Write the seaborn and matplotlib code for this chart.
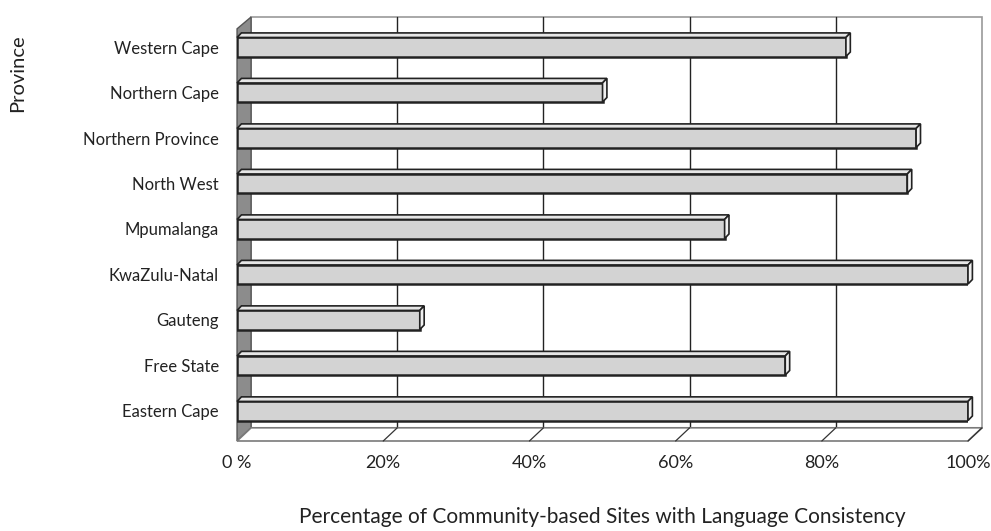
import matplotlib
matplotlib.use("Agg")
import matplotlib.pyplot as plt
import seaborn as sns
import pandas as pd
from matplotlib.patches import Polygon

# data
provinces = ["Western Cape", "Northern Cape", "Northern Province", "North West",
             "Mpumalanga", "KwaZulu-Natal", "Gauteng", "Free State", "Eastern Cape"]
pct = [83.3, 50.0, 92.9, 91.7, 66.7, 100.0, 25.0, 75.0, 100.0]
ticks = [0, 20, 40, 60, 80, 100]
tick_labels = ["0 %", "20%", "40%", "60%", "80%", "100%"]

df = pd.DataFrame({"Province": provinces, "pct": pct})

sns.set_style("white")
plt.rcParams["font.family"] = ["Lato", "DejaVu Sans"]

fig = plt.figure(figsize=(9.91, 5.31), dpi=100)
ax = fig.add_axes([0.2392, 0.1695, 0.7376, 0.7985])

sns.barplot(data=df, x="pct", y="Province", orient="h", color="#d3d3d3",
            edgecolor="#222222", linewidth=1.8, width=0.42, ax=ax, zorder=3)

ax.set_xlim(0, 100)
ax.set_ylim(8.66, -0.66)

# depth offsets (data units)
dx = 1.92
ybot_back, ytop = 8.37, -0.66

# back wall outline + grid
ax.add_patch(Polygon([(dx, ybot_back), (100 + dx, ybot_back), (100 + dx, ytop), (dx, ytop)],
                     closed=True, fill=False, edgecolor="#9a9a9a", lw=1.2, clip_on=False, zorder=1))
for g in ticks[1:-1]:
    ax.plot([g + dx, g + dx], [ybot_back, ytop], color="#222222", lw=1.0, zorder=1, clip_on=False)

# left wall
ax.add_patch(Polygon([(0, 8.66), (dx, ybot_back), (dx, ytop), (0, ytop + 0.26)],
                     closed=True, facecolor="#8c8c8c", edgecolor="#555555", lw=1.0, clip_on=False, zorder=2))
# floor
ax.add_patch(Polygon([(0, 8.66), (100, 8.66), (100 + dx, ybot_back), (dx, ybot_back)],
                     closed=True, facecolor="white", edgecolor="#7a7a7a", lw=1.2, clip_on=False, zorder=2))
for g in ticks[1:]:
    ax.plot([g, g + dx], [8.66, ybot_back], color="#333333", lw=0.9, zorder=2, clip_on=False)

# 3d caps on bars
bd, bdy = 0.6, 0.1
for p in ax.patches:
    if p.get_zorder() != 3:
        continue
    x0, y0 = p.get_x(), p.get_y()
    w, h = p.get_width(), p.get_height()
    x1 = x0 + w
    # top face (y axis inverted: top is y0)
    ax.add_patch(Polygon([(x0, y0), (x1, y0), (x1 + bd, y0 - bdy), (x0 + bd, y0 - bdy)],
                         closed=True, facecolor="#e6e6e6", edgecolor="#222222", lw=1.2,
                         clip_on=False, zorder=3))
    ax.add_patch(Polygon([(x1, y0), (x1 + bd, y0 - bdy), (x1 + bd, y0 + h - bdy), (x1, y0 + h)],
                         closed=True, facecolor="#f0f0f0", edgecolor="#222222", lw=1.2,
                         clip_on=False, zorder=3))

for s in ax.spines.values():
    s.set_visible(False)

ax.set_xticks(ticks)
ax.set_xticklabels(tick_labels)
ax.tick_params(axis="x", length=0, pad=10, labelsize=13, labelcolor="#222222")
ax.tick_params(axis="y", length=0, pad=13, labelsize=12, labelcolor="#222222")
ax.set_ylabel("")
ax.set_xlabel("Percentage of Community-based Sites with Language Consistency",
              fontsize=15, color="#222222", labelpad=26)
fig.text(0.018, 0.862, "Province", rotation=90, ha="center", va="center",
         fontsize=14.5, color="#222222")

fig.savefig("out.png", dpi=100)
